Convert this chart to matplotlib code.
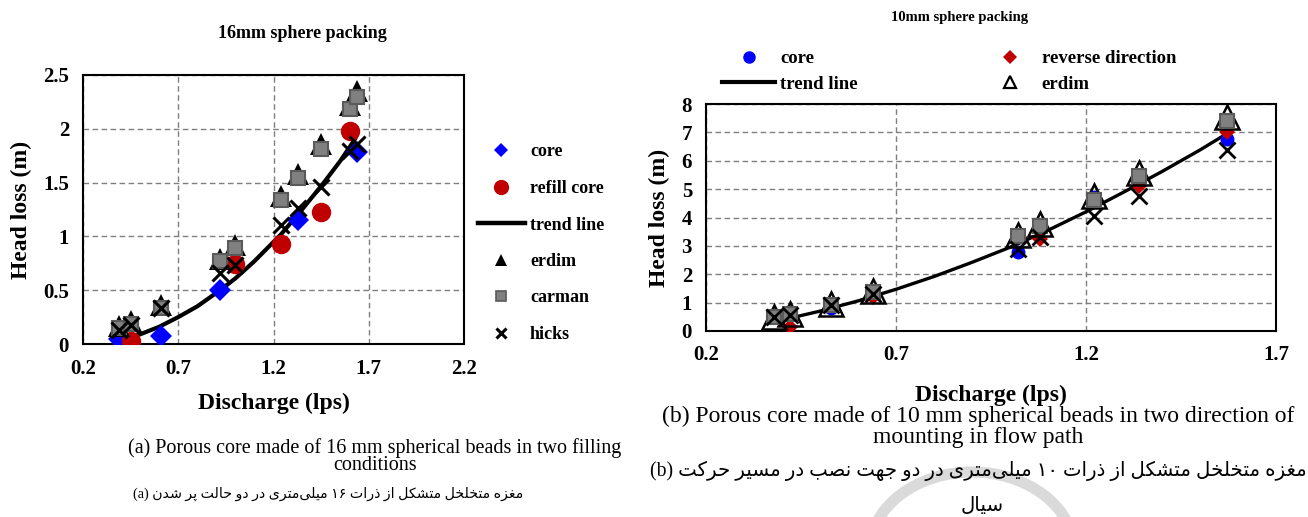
import matplotlib
matplotlib.use('Agg')
import matplotlib.pyplot as plt
from matplotlib.patches import Arc
from matplotlib.lines import Line2D

# ---------------- data: 16 mm packing ----------------
q16_core = [0.39, 0.61, 0.92, 1.33, 1.64]
h16_core = [0.05, 0.07, 0.50, 1.15, 1.78]
q16_refill = [0.45, 1.00, 1.24, 1.45, 1.60]
h16_refill = [0.03, 0.74, 0.93, 1.23, 1.98]
q16_model = [0.39, 0.45, 0.61, 0.92, 1.00, 1.24, 1.33, 1.45, 1.60, 1.64]
h16_erdim = [0.17, 0.21, 0.36, 0.79, 0.92, 1.38, 1.58, 1.86, 2.22, 2.35]
h16_carman = [0.15, 0.19, 0.33, 0.77, 0.89, 1.34, 1.54, 1.81, 2.18, 2.30]
h16_hicks = [0.13, 0.18, 0.33, 0.66, 0.73, 1.11, 1.26, 1.46, 1.79, 1.86]
q16_trend = [0.43, 0.50, 0.60, 0.70, 0.80, 0.92, 1.00, 1.10, 1.24, 1.35, 1.46, 1.55, 1.63]
h16_trend = [0.05, 0.09, 0.16, 0.25, 0.35, 0.50, 0.61, 0.77, 1.02, 1.25, 1.49, 1.70, 1.91]

# ---------------- data: 10 mm packing ----------------
q10_core = [0.38, 0.53, 1.02, 1.22, 1.57]
h10_core = [0.55, 0.80, 2.80, 4.72, 6.75]
q10_rev = [0.42, 0.64, 1.08, 1.34, 1.57]
h10_rev = [0.15, 1.20, 3.25, 5.12, 7.02]
q10_model = [0.38, 0.42, 0.53, 0.64, 1.02, 1.08, 1.22, 1.34, 1.57]
h10_erdim = [0.50, 0.60, 0.95, 1.40, 3.40, 3.78, 4.75, 5.57, 7.55]
h10_carman = [0.51, 0.60, 0.92, 1.36, 3.34, 3.69, 4.62, 5.46, 7.39]
h10_hicks = [0.49, 0.58, 0.90, 1.30, 2.90, 3.32, 4.04, 4.76, 6.37]
q10_trend = [0.42, 0.50, 0.60, 0.70, 0.80, 0.90, 1.00, 1.10, 1.20, 1.30, 1.40, 1.50, 1.57]
h10_trend = [0.45, 0.70, 1.06, 1.47, 1.92, 2.42, 2.95, 3.55, 4.20, 4.90, 5.62, 6.38, 6.95]

x16_ticks = [0.2, 0.7, 1.2, 1.7, 2.2]
y16_ticks = [0, 0.5, 1, 1.5, 2, 2.5]
y16_labels = ['0', '0.5', '1', '1.5', '2', '2.5']
x10_ticks = [0.2, 0.7, 1.2, 1.7]
y10_ticks = [0, 1, 2, 3, 4, 5, 6, 7, 8]

title16 = '16mm sphere packing'
title10 = '10mm sphere packing'
cap_a_en = ['(a) Porous core made of 16 mm spherical beads in two filling', 'conditions']
cap_a_fa = 'مغزه متخلخل متشکل از ذرات ۱۶ میلی\u200cمتری در دو حالت پر شدن'
cap_b_en = ['(b) Porous core made of 10 mm spherical beads in two direction of',
            'mounting in flow path']
cap_b_fa1 = 'مغزه متخلخل متشکل از ذرات ۱۰ میلی\u200cمتری در دو جهت نصب در مسیر حرکت'
cap_b_fa2 = 'سیال'

# ---------------- simple Persian shaping (matplotlib has no text shaping) -------------
FORMS = {
    '\u0627': ('\uFE8D', '\uFE8E', None, None),
    '\u0628': ('\uFE8F', '\uFE90', '\uFE91', '\uFE92'),
    '\u067E': ('\uFB56', '\uFB57', '\uFB58', '\uFB59'),
    '\u062A': ('\uFE95', '\uFE96', '\uFE97', '\uFE98'),
    '\u062B': ('\uFE99', '\uFE9A', '\uFE9B', '\uFE9C'),
    '\u062C': ('\uFE9D', '\uFE9E', '\uFE9F', '\uFEA0'),
    '\u0686': ('\uFB7A', '\uFB7B', '\uFB7C', '\uFB7D'),
    '\u062D': ('\uFEA1', '\uFEA2', '\uFEA3', '\uFEA4'),
    '\u062E': ('\uFEA5', '\uFEA6', '\uFEA7', '\uFEA8'),
    '\u062F': ('\uFEA9', '\uFEAA', None, None),
    '\u0630': ('\uFEAB', '\uFEAC', None, None),
    '\u0631': ('\uFEAD', '\uFEAE', None, None),
    '\u0632': ('\uFEAF', '\uFEB0', None, None),
    '\u0698': ('\uFB8A', '\uFB8B', None, None),
    '\u0633': ('\uFEB1', '\uFEB2', '\uFEB3', '\uFEB4'),
    '\u0634': ('\uFEB5', '\uFEB6', '\uFEB7', '\uFEB8'),
    '\u0635': ('\uFEB9', '\uFEBA', '\uFEBB', '\uFEBC'),
    '\u0636': ('\uFEBD', '\uFEBE', '\uFEBF', '\uFEC0'),
    '\u0637': ('\uFEC1', '\uFEC2', '\uFEC3', '\uFEC4'),
    '\u0638': ('\uFEC5', '\uFEC6', '\uFEC7', '\uFEC8'),
    '\u0639': ('\uFEC9', '\uFECA', '\uFECB', '\uFECC'),
    '\u063A': ('\uFECD', '\uFECE', '\uFECF', '\uFED0'),
    '\u0641': ('\uFED1', '\uFED2', '\uFED3', '\uFED4'),
    '\u0642': ('\uFED5', '\uFED6', '\uFED7', '\uFED8'),
    '\u06A9': ('\uFB8E', '\uFB8F', '\uFB90', '\uFB91'),
    '\u06AF': ('\uFB92', '\uFB93', '\uFB94', '\uFB95'),
    '\u0644': ('\uFEDD', '\uFEDE', '\uFEDF', '\uFEE0'),
    '\u0645': ('\uFEE1', '\uFEE2', '\uFEE3', '\uFEE4'),
    '\u0646': ('\uFEE5', '\uFEE6', '\uFEE7', '\uFEE8'),
    '\u0648': ('\uFEED', '\uFEEE', None, None),
    '\u0647': ('\uFEE9', '\uFEEA', '\uFEEB', '\uFEEC'),
    '\u06CC': ('\uFBFC', '\uFBFD', '\uFBFE', '\uFBFF'),
}


def shape_word(w):
    out = []
    i = 0
    n = len(w)
    while i < n:
        ch = w[i]
        if ch not in FORMS:
            if ch != '\u200c':
                out.append(ch)
            i += 1
            continue
        prev = w[i - 1] if i > 0 else None
        jp = prev in FORMS and FORMS[prev][2] is not None
        if ch == '\u0644' and i + 1 < n and w[i + 1] == '\u0627':
            out.append('\uFEFC' if jp else '\uFEFB')
            i += 2
            continue
        nxt = w[i + 1] if i + 1 < n else None
        jn = nxt in FORMS and FORMS[ch][2] is not None
        iso, fin, ini, med = FORMS[ch]
        if jp and jn:
            out.append(med)
        elif jp:
            out.append(fin)
        elif jn:
            out.append(ini)
        else:
            out.append(iso)
        i += 1
    return ''.join(out)


def visual_rtl(run):
    words = []
    for w in run.split(' '):
        s = shape_word(w)
        if all('\u06F0' <= c <= '\u06F9' for c in s):
            words.append(s)
        else:
            words.append(s[::-1])
    return ' '.join(reversed(words))


# ---------------- figure ----------------
W, H = 1308, 517
fig = plt.figure(figsize=(W / 100, H / 100), dpi=100)
SERIF = 'Liberation Serif'
FA = ['Liberation Serif', 'DejaVu Sans']

grid_kw = dict(color='#7f7f7f', linestyle=(0, (4, 2.5)), linewidth=1.0)


def px_axes(l, r, t, b):
    return fig.add_axes([l / W, 1 - b / H, (r - l) / W, (b - t) / H])


def style_axes(ax):
    for s in ax.spines.values():
        s.set_linewidth(1.5)
        s.set_color('black')
    ax.grid(True, **grid_kw)
    ax.set_axisbelow(True)
    for lab in ax.get_xticklabels() + ax.get_yticklabels():
        lab.set_fontfamily(SERIF)
        lab.set_fontweight('bold')
        lab.set_fontsize(15)


BLUE = '#0000FF'
RED = '#C00000'
GRAY = '#808080'
GRAY_EDGE = '#5a5a5a'

# ---- left chart ----
ax1 = px_axes(83, 464, 75, 344)
ax1.set_xlim(0.2, 2.2)
ax1.set_ylim(0, 2.5)
ax1.set_xticks(x16_ticks)
ax1.set_xticklabels([str(t) for t in x16_ticks])
ax1.set_yticks(y16_ticks)
ax1.set_yticklabels(y16_labels)
ax1.tick_params(length=0, pad=10)
ax1.tick_params(axis='x', pad=11)
style_axes(ax1)

ax1.plot(q16_trend, h16_trend, color='black', lw=3.0, zorder=3, solid_capstyle='round')
ax1.plot(q16_core, h16_core, 'D', color=BLUE, ms=11, mew=0, zorder=4)
ax1.plot(q16_refill, h16_refill, 'o', color=RED, ms=14, mew=0, zorder=4)
ax1.plot(q16_model, h16_erdim, '^', color='black', ms=16, mew=0, zorder=5)
ax1.plot(q16_model, h16_carman, 's', color=GRAY, mec=GRAY_EDGE, ms=10, mew=1.5, zorder=6)
ax1.plot(q16_model, h16_hicks, 'x', color='black', ms=12, mew=2.2, zorder=7)

ax1.set_xlabel('Discharge (lps)', fontfamily=SERIF, fontweight='bold', fontsize=17, labelpad=10)
ax1.set_ylabel('Head loss (m)', fontfamily=SERIF, fontweight='bold', fontsize=17, labelpad=8)

lh1 = [
    Line2D([], [], ls='none', marker='D', color=BLUE, ms=7, mew=0),
    Line2D([], [], ls='none', marker='o', color=RED, ms=11, mew=0),
    Line2D([], [], color='black', lw=3.2),
    Line2D([], [], ls='none', marker='^', color='black', ms=9, mew=0),
    Line2D([], [], ls='none', marker='s', color=GRAY, mec=GRAY_EDGE, ms=7, mew=1.2),
    Line2D([], [], ls='none', marker='x', color='black', ms=7, mew=2.2),
]
fig.legend(handles=lh1, labels=['core', 'refill core', 'trend line', 'erdim', 'carman', 'hicks'],
           loc='upper left', bbox_to_anchor=(478 / W, 1 - 143.5 / H), frameon=False,
           prop={'family': SERIF, 'weight': 'bold', 'size': 13},
           handlelength=2.6, handletextpad=0.28, labelspacing=1.08,
           borderpad=0, borderaxespad=0)

# ---- right chart ----
ax2 = px_axes(706, 1276, 104, 331)
ax2.set_xlim(0.2, 1.7)
ax2.set_ylim(0, 8)
ax2.set_xticks(x10_ticks)
ax2.set_xticklabels([str(t) for t in x10_ticks])
ax2.set_yticks(y10_ticks)
ax2.set_yticklabels([str(t) for t in y10_ticks])
ax2.tick_params(length=0, pad=10)
style_axes(ax2)

ax2.plot(q10_trend, h10_trend, color='black', lw=2.4, zorder=3)
ax2.plot(q10_core, h10_core, 'o', color=BLUE, ms=10, mew=0, zorder=4)
ax2.plot(q10_rev, h10_rev, 'D', color=RED, ms=8, mew=0, zorder=4)
ax2.plot(q10_model, h10_erdim, '^', mfc='none', mec='black', ms=17, mew=1.8, zorder=5)
ax2.plot(q10_model, h10_carman, 's', color=GRAY, mec=GRAY_EDGE, ms=10, mew=1.5, zorder=6)
ax2.plot(q10_model, h10_hicks, 'x', color='black', ms=11, mew=2.0, zorder=7)

ax2.set_xlabel('Discharge (lps)', fontfamily=SERIF, fontweight='bold', fontsize=17, labelpad=14)
ax2.set_ylabel('Head loss (m)', fontfamily=SERIF, fontweight='bold', fontsize=17, labelpad=8)

lh2 = [
    Line2D([], [], ls='none', marker='o', color=BLUE, ms=9, mew=0),
    Line2D([], [], color='black', lw=3.0),
    Line2D([], [], ls='none', marker='D', color=RED, ms=7, mew=0),
    Line2D([], [], ls='none', marker='^', mfc='none', mec='black', ms=9, mew=1.6),
]
fig.legend(handles=lh2, labels=['core', 'trend line', 'reverse direction', 'erdim'],
           loc='upper left', ncol=2, bbox_to_anchor=(722 / W, 1 - 50 / H), frameon=False,
           prop={'family': SERIF, 'weight': 'bold', 'size': 13.5},
           handlelength=2.83, handletextpad=0.27, labelspacing=0.45,
           columnspacing=6.7, borderpad=0, borderaxespad=0)

# ---- titles ----
fig.text(302 / W, 1 - 33 / H, title16, ha='center', va='center', family=SERIF,
         weight='bold', size=13)
fig.text(960 / W, 1 - 17 / H, title10, ha='center', va='center', family=SERIF,
         weight='bold', size=10.5)

# ---- captions ----
fig.text(375 / W, 1 - 448 / H, cap_a_en[0], ha='center', va='center', family=SERIF, size=14.5)
fig.text(375 / W, 1 - 466 / H, cap_a_en[1], ha='center', va='center', family=SERIF, size=14.5)
fig.text(328 / W, 1 - 494 / H, '(a) ' + visual_rtl(cap_a_fa), ha='center', va='center',
         family=FA, size=10.2)

fig.text(978 / W, 1 - 416 / H, cap_b_en[0], ha='center', va='center', family=SERIF, size=17)
fig.text(978 / W, 1 - 437 / H, cap_b_en[1], ha='center', va='center', family=SERIF, size=17)
fig.text(978 / W, 1 - 471 / H, '(b) ' + visual_rtl(cap_b_fa1), ha='center', va='center',
         family=FA, size=14.2)
fig.text(982 / W, 1 - 507 / H, visual_rtl(cap_b_fa2), ha='center', va='center',
         family=FA, size=14.2)

# ---- faint watermark arc ----
ov = fig.add_axes([0, 0, 1, 1], zorder=-5)
ov.set_xlim(0, W)
ov.set_ylim(0, H)
ov.axis('off')
ov.add_patch(Arc((972, 517 - 552), 205, 160, theta1=0, theta2=180, color='#dadada', lw=8))

fig.savefig('out.png', dpi=100)
